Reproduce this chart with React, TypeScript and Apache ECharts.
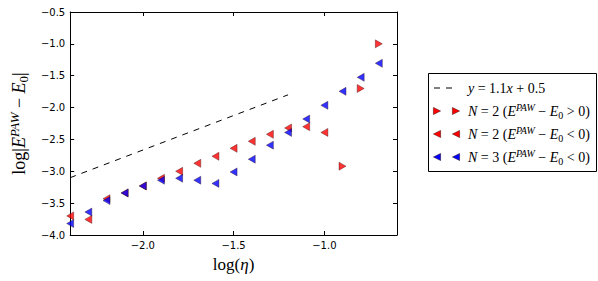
import React, { useEffect, useRef } from "react";
import * as echarts from "echarts";

const xN2Neg = [-2.4, -2.3, -2.2, -2.1, -2.0, -1.9, -1.8, -1.7, -1.6, -1.5, -1.4, -1.3, -1.2, -1.1, -1.0];
const yN2Neg = [-3.70, -3.755, -3.43, -3.34, -3.23, -3.11, -3.00, -2.875, -2.765, -2.64, -2.53, -2.42, -2.32, -2.30, -2.39];
const xN2Pos = [-0.9, -0.8, -0.7];
const yN2Pos = [-2.92, -1.70, -1.00];
const xN3Neg = [-2.4, -2.3, -2.2, -2.1, -2.0, -1.9, -1.8, -1.7, -1.6, -1.5, -1.4, -1.3, -1.2, -1.1, -1.0, -0.9, -0.8, -0.7];
const yN3Neg = [-3.82, -3.64, -3.46, -3.34, -3.23, -3.14, -3.11, -3.14, -3.19, -3.01, -2.81, -2.59, -2.39, -2.18, -1.965, -1.745, -1.525, -1.305];
const xFit = [-2.4, -1.2];
const yFit = [-3.10, -1.80];
const xTicks = [-2.0, -1.5, -1.0];

const SERIF = "Liberation Serif";

function mathRich(fs: number) {
  const base = { fontFamily: SERIF, fontSize: fs, color: "#000", lineHeight: fs + 4 };
  return {
    r: { ...base },
    i: { ...base, fontStyle: "italic" },
    sup: { fontFamily: SERIF, fontSize: Math.round(fs * 0.72), fontStyle: "italic", color: "#000", verticalAlign: "top", lineHeight: Math.round(fs * 0.72) },
    sub: { fontFamily: SERIF, fontSize: Math.round(fs * 0.72), color: "#000", verticalAlign: "bottom", lineHeight: Math.round(fs * 0.72) },
  };
}

const fmt = (v: number) => (v < 0 ? "\u2212" : "") + Math.abs(v).toFixed(1);

export default function App() {
  const ref = useRef<HTMLDivElement>(null);
  useEffect(() => {
    const chart = echarts.init(ref.current!, null, { renderer: "svg" });
    const edge = "rgba(40,0,0,0.75)";
    const triLeft = 90;
    const triRight = -90;
    const legendRows = [
      { y: 88, kind: "line", text: "{i|y}{r| = 1.1}{i|x}{r| + 0.5}" },
      { y: 111, kind: "right", color: "#ff0000", text: "{i|N}{r| = 2 (}{i|E}{sup|PAW}{r| \u2212 }{i|E}{sub|0}{r| > 0)}" },
      { y: 134, kind: "left", color: "#ff0000", text: "{i|N}{r| = 2 (}{i|E}{sup|PAW}{r| \u2212 }{i|E}{sub|0}{r| < 0)}" },
      { y: 157, kind: "left", color: "#0000ff", text: "{i|N}{r| = 3 (}{i|E}{sup|PAW}{r| \u2212 }{i|E}{sub|0}{r| < 0)}" },
    ];
    const mk = (cx: number, cy: number, dir: string, color: string) => {
      const s = 3.6;
      const pts = dir === "right"
        ? [[cx - s, cy - s], [cx + s, cy], [cx - s, cy + s]]
        : [[cx + s, cy - s], [cx - s, cy], [cx + s, cy + s]];
      return { type: "polygon", shape: { points: pts }, style: { fill: color, stroke: edge, lineWidth: 0.6 } };
    };
    const legendEls: any[] = [
      { type: "rect", shape: { x: 428.5, y: 73.5, width: 168, height: 98 }, style: { fill: "#fff", stroke: "#000", lineWidth: 1 } },
    ];
    legendRows.forEach((r) => {
      if (r.kind === "line") {
        legendEls.push({ type: "line", shape: { x1: 434, y1: r.y, x2: 458, y2: r.y }, style: { stroke: "#000", lineWidth: 1, lineDash: [6, 6] } });
      } else {
        legendEls.push(mk(437, r.y, r.kind, r.color as string));
        legendEls.push(mk(456, r.y, r.kind, r.color as string));
      }
      legendEls.push({ type: "text", x: 468, y: r.y, style: { text: r.text, rich: mathRich(14), verticalAlign: "middle", align: "left" } });
    });

    const scatterBase = {
      type: "scatter",
      symbol: "triangle",
      symbolSize: [8, 7],
      itemStyle: { borderColor: edge, borderWidth: 0.6 },
      z: 3,
    };

    chart.setOption({
      animation: false,
      grid: { left: 62, top: 12, width: 335, height: 223, containLabel: false },
      xAxis: [
        {
          type: "value", min: -2.4, max: -0.6, position: "bottom",
          axisLine: { show: true, onZero: false, lineStyle: { color: "#000", width: 1 } },
          axisTick: { show: true, inside: true, length: 4, customValues: xTicks, lineStyle: { color: "#000" } },
          axisLabel: { customValues: xTicks, formatter: fmt, color: "#000", fontFamily: "DejaVu Sans", fontSize: 10, margin: 5 },
          splitLine: { show: false },
          name: "{r|log(}{i|\u03b7}{r|)}", nameLocation: "middle", nameGap: 19,
          nameTextStyle: { rich: mathRich(17) },
        },
        {
          type: "value", min: -2.4, max: -0.6, position: "top",
          axisLine: { show: true, onZero: false, lineStyle: { color: "#000", width: 1 } },
          axisTick: { show: true, inside: true, length: 4, customValues: xTicks, lineStyle: { color: "#000" } },
          axisLabel: { show: false },
          splitLine: { show: false },
        },
      ],
      yAxis: [
        {
          type: "value", min: -4, max: -0.5, interval: 0.5, position: "left",
          axisLine: { show: true, onZero: false, lineStyle: { color: "#000", width: 1 } },
          axisTick: { show: true, inside: true, length: 4, lineStyle: { color: "#000" } },
          axisLabel: { formatter: fmt, color: "#000", fontFamily: "DejaVu Sans", fontSize: 10, margin: 5 },
          splitLine: { show: false },
          name: "{r|log|}{i|E}{sup|PAW}{r| \u2212 }{i|E}{sub|0}{r||}", nameLocation: "middle", nameRotate: 90, nameGap: 37,
          nameTextStyle: { rich: mathRich(18) },
        },
        {
          type: "value", min: -4, max: -0.5, interval: 0.5, position: "right",
          axisLine: { show: true, onZero: false, lineStyle: { color: "#000", width: 1 } },
          axisTick: { show: true, inside: true, length: 4, lineStyle: { color: "#000" } },
          axisLabel: { show: false },
          splitLine: { show: false },
        },
      ],
      series: [
        {
          type: "line", data: xFit.map((x, i) => [x, yFit[i]]), showSymbol: false, symbol: "none",
          lineStyle: { color: "#000", width: 1, type: [6, 6] }, z: 2,
        },
        { ...scatterBase, symbolRotate: triRight, itemStyle: { ...scatterBase.itemStyle, color: "#ff0000" }, data: xN2Pos.map((x, i) => [x, yN2Pos[i]]) },
        { ...scatterBase, symbolRotate: triLeft, itemStyle: { ...scatterBase.itemStyle, color: "#ff0000" }, data: xN2Neg.map((x, i) => [x, yN2Neg[i]]) },
        { ...scatterBase, symbolRotate: triLeft, itemStyle: { ...scatterBase.itemStyle, color: "#0000ff" }, data: xN3Neg.map((x, i) => [x, yN3Neg[i]]) },
      ],
      graphic: legendEls,
    });
    return () => chart.dispose();
  }, []);
  return <div ref={ref} style={{ position: "fixed", left: 0, top: 0, width: 598, height: 281, background: "#fff" }} />;
}
